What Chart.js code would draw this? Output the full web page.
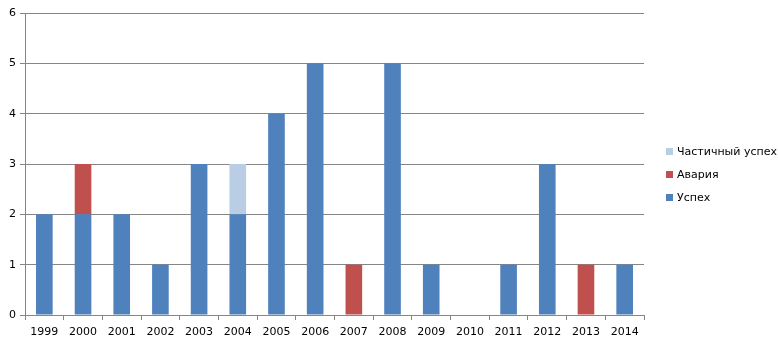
<!DOCTYPE html>
<html>
<head>
<meta charset="utf-8">
<script src="https://cdn.jsdelivr.net/npm/chart.js@4/dist/chart.umd.min.js"></script>
<style>
  html, body { margin: 0; padding: 0; background: #fff; }
  canvas { display: block; }
</style>
</head>
<body>
<canvas id="mychart" width="778" height="340"></canvas>
<script>
const years = ['1999', '2000', '2001', '2002', '2003', '2004', '2005', '2006',
    '2007', '2008', '2009', '2010', '2011', '2012', '2013', '2014'];
const success = [2, 2, 2, 1, 3, 2, 4, 5, 0, 5, 1, 0, 1, 3, 0, 1];
const failure = [0, 1, 0, 0, 0, 0, 0, 0, 1, 0, 0, 0, 0, 0, 1, 0];
const partial = [0, 0, 0, 0, 0, 1, 0, 0, 0, 0, 0, 0, 0, 0, 0, 0];
const yTicks = [0, 1, 2, 3, 4, 5, 6];

const seriesDefs = [
    { label: 'Успех', data: success, color: '#4F81BD' },
    { label: 'Авария', data: failure, color: '#C0504D' },
    { label: 'Частичный успех', data: partial, color: '#B9CDE5' }
];

const axisColor = '#868686';
const fontFamily = 'Tahoma, "DejaVu Sans", sans-serif';

// 범례는 오른쪽에 역순으로 직접 그린다
const sideLegend = {
    id: 'sideLegend',
    afterDraw(chart) {
        const { ctx } = chart;
        const items = chart.data.datasets.slice().reverse();
        ctx.save();
        ctx.font = '11px ' + fontFamily;
        ctx.textBaseline = 'middle';
        items.forEach((ds, i) => {
            const y = 152 + i * 23;
            ctx.fillStyle = ds.backgroundColor;
            ctx.fillRect(666, y - 4, 7, 7);
            ctx.fillStyle = '#000';
            ctx.fillText(ds.label, 677, y);
        });
        ctx.restore();
    }
};

new Chart(document.getElementById('mychart'), {
    type: 'bar',
    plugins: [sideLegend],
    data: {
        labels: years,
        datasets: seriesDefs.map((s) => ({
            label: s.label,
            data: s.data,
            backgroundColor: s.color,
            borderWidth: 0,
            categoryPercentage: 1,
            barPercentage: 0.43
        }))
    },
    options: {
        responsive: false,
        maintainAspectRatio: false,
        animation: false,
        layout: {
            padding: { top: 13, left: 0, right: 134, bottom: 0 }
        },
        plugins: {
            legend: { display: false },
            tooltip: { enabled: false }
        },
        scales: {
            x: {
                stacked: true,
                afterFit(scale) { scale.height = 25; },
                grid: {
                    offset: true,
                    drawOnChartArea: false,
                    color: axisColor,
                    tickLength: 5,
                    tickColor: axisColor
                },
                border: { color: axisColor, width: 1 },
                ticks: {
                    color: '#000',
                    padding: 6,
                    maxRotation: 0,
                    autoSkip: false,
                    font: { family: fontFamily, size: 11 }
                }
            },
            y: {
                stacked: true,
                min: 0,
                max: 6,
                afterFit(scale) { scale.width = 25; },
                afterBuildTicks(scale) {
                    scale.ticks = yTicks.map((v) => ({ value: v }));
                },
                grid: {
                    color: axisColor,
                    tickLength: 5,
                    tickColor: axisColor
                },
                border: { color: axisColor, width: 1 },
                ticks: {
                    color: '#000',
                    padding: 4,
                    font: { family: fontFamily, size: 11 }
                }
            }
        }
    }
});
</script>
</body>
</html>
